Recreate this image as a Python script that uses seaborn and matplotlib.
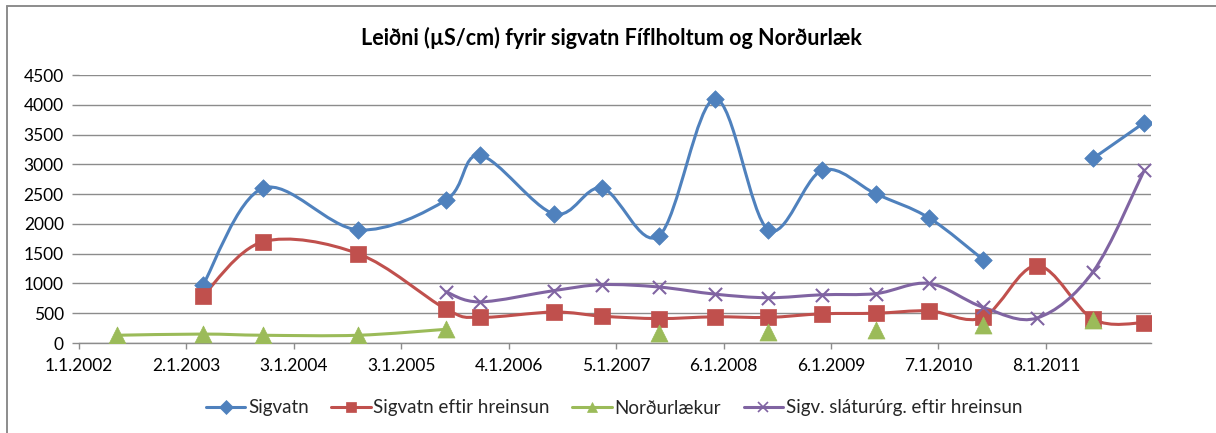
import numpy as np
import pandas as pd
import matplotlib
matplotlib.use("Agg")
import matplotlib.pyplot as plt
import matplotlib.dates as mdates
from matplotlib.path import Path
from matplotlib.patches import PathPatch
from matplotlib.lines import Line2D
import seaborn as sns

# sýnatökudagar (sameiginlegir fyrir allar raðir)
dates = ['2002-05-10', '2003-02-27', '2003-09-20', '2004-08-09', '2005-06-04',
         '2005-09-28', '2006-06-07', '2006-11-18', '2007-05-31', '2007-12-08',
         '2008-06-06', '2008-12-07', '2009-06-09', '2009-12-06', '2010-06-08',
         '2010-12-09', '2011-06-18', '2011-12-09']

nan = np.nan
sigvatn = [nan, 970, 2600, 1900, 2400, 3150, 2170, 2600, 1800, 4100,
           1900, 2900, 2500, 2100, 1400, nan, 3100, 3700]
sigvatn_hreins = [nan, 790, 1700, 1500, 570, 430, 520, 450, 410, 440,
                  430, 490, 500, 540, 430, 1300, 400, 340]
nordurlaekur = [130, 150, 130, 130, 230, nan, nan, nan, 160, nan,
                190, nan, 220, nan, 310, nan, 380, nan]
slatururg = [nan, nan, nan, nan, 860, 690, 880, 980, 940, 820,
             760, 810, 830, 1000, 600, 420, 1200, 2900]

labels = ['Sigvatn', 'Sigvatn eftir hreinsun', 'Norðurlækur', 'Sigv. sláturúrg. eftir hreinsun']
colors = ['#4F81BD', '#C0504D', '#9BBB59', '#8064A2']
markers = ['D', 's', '^', 'x']
msizes = [80, 120, 150, 90]

tick_dates = ['2002-01-01', '2003-01-02', '2004-01-03', '2005-01-03', '2006-01-04',
              '2007-01-05', '2008-01-06', '2009-01-06', '2010-01-07', '2011-01-08']
x_min, x_max = '2002-01-01', '2012-01-01'

df = pd.DataFrame({'dags': pd.to_datetime(dates), labels[0]: sigvatn, labels[1]: sigvatn_hreins,
                   labels[2]: nordurlaekur, labels[3]: slatururg})

sns.set_theme(style='white')
plt.rcParams['font.family'] = ['Lato', 'DejaVu Sans']


def smooth_path(x, y):
    # Excel-lík mýking: Bezier ferlar (Catmull-Rom) milli samliggjandi punkta
    pts = np.column_stack([x, y])
    n = len(pts)
    verts = [pts[0]]
    codes = [Path.MOVETO]
    for i in range(n - 1):
        p0 = pts[i - 1] if i > 0 else pts[i]
        p1 = pts[i]
        p2 = pts[i + 1]
        p3 = pts[i + 2] if i + 2 < n else pts[i + 1]
        verts += [p1 + (p2 - p0) / 6, p2 - (p3 - p1) / 6, p2]
        codes += [Path.CURVE4] * 3
    return Path(verts, codes)


fig = plt.figure(figsize=(12.16, 4.33), dpi=100)
ax = fig.add_axes([79 / 1216, 1 - 343 / 433, 1072 / 1216, 268 / 433])

xnum = mdates.date2num(df['dags'])
for lab, col, mk, ms in zip(labels, colors, markers, msizes):
    vals = df[lab].to_numpy(dtype=float)
    ok = ~np.isnan(vals)
    # samfelldir bútar
    start = None
    for i in range(len(vals) + 1):
        if i < len(vals) and ok[i]:
            if start is None:
                start = i
        else:
            if start is not None and i - start >= 2:
                ax.add_patch(PathPatch(smooth_path(xnum[start:i], vals[start:i]),
                                       fill=False, edgecolor=col, lw=2.2, capstyle='round',
                                       joinstyle='round', zorder=3))
            start = None
    sub = df[ok]
    if mk == 'x':
        sns.scatterplot(data=sub, x='dags', y=lab, marker='x', s=ms, color=col,
                        linewidth=1.5, ax=ax, zorder=4, legend=False)
    else:
        sns.scatterplot(data=sub, x='dags', y=lab, marker=mk, s=ms, color=col,
                        edgecolor=col, linewidth=0.5, ax=ax, zorder=4, legend=False)

ax.set_xlim(pd.Timestamp(x_min), pd.Timestamp(x_max))
ax.set_ylim(0, 4500)
ax.set_yticks(np.arange(0, 4501, 500))
td = pd.to_datetime(tick_dates)
ax.set_xticks(td)
ax.set_xticklabels([f'{d.day}.{d.month}.{d.year}' for d in td])
ax.set_xlabel('')
ax.set_ylabel('')
ax.grid(axis='y', color='#8C8C8C', lw=1.0)
ax.grid(axis='x', visible=False)
for s in ['top', 'right', 'left']:
    ax.spines[s].set_visible(False)
ax.spines['bottom'].set_color('#8C8C8C')
ax.spines['bottom'].set_linewidth(1.0)
ax.tick_params(axis='y', length=5, width=1.0, color='#8C8C8C', labelsize=12.5, pad=6, left=True)
ax.tick_params(axis='x', length=4, width=1.0, color='#8C8C8C', labelsize=12.5, pad=7, bottom=True)
for t in ax.get_xticklabels() + ax.get_yticklabels():
    t.set_color('black')

fig.text(0.503, 1 - 38 / 433, 'Leiðni (µS/cm) fyrir sigvatn Fíflholtum og Norðurlæk',
         ha='center', va='center', fontsize=15.5, fontweight='bold', color='black')

handles = [Line2D([], [], color=c, lw=2.2, marker=m, markersize=7,
                  markeredgewidth=1.2 if m == 'x' else 0.5) for c, m in zip(colors, markers)]
fig.legend(handles, labels, loc='center', bbox_to_anchor=(0.505, 1 - 408 / 433), ncol=4,
           frameon=False, fontsize=13.5, handlelength=2.1, handletextpad=0.15, columnspacing=1.2)

# rammi grafsins
fig.add_artist(Line2D([7 / 1216, 7 / 1216], [0, 1 - 6 / 433], color='#8C8C8C', lw=1.4))
fig.add_artist(Line2D([7 / 1216, 1], [1 - 6 / 433, 1 - 6 / 433], color='#8C8C8C', lw=1.4))

fig.savefig('out.png', dpi=100)
